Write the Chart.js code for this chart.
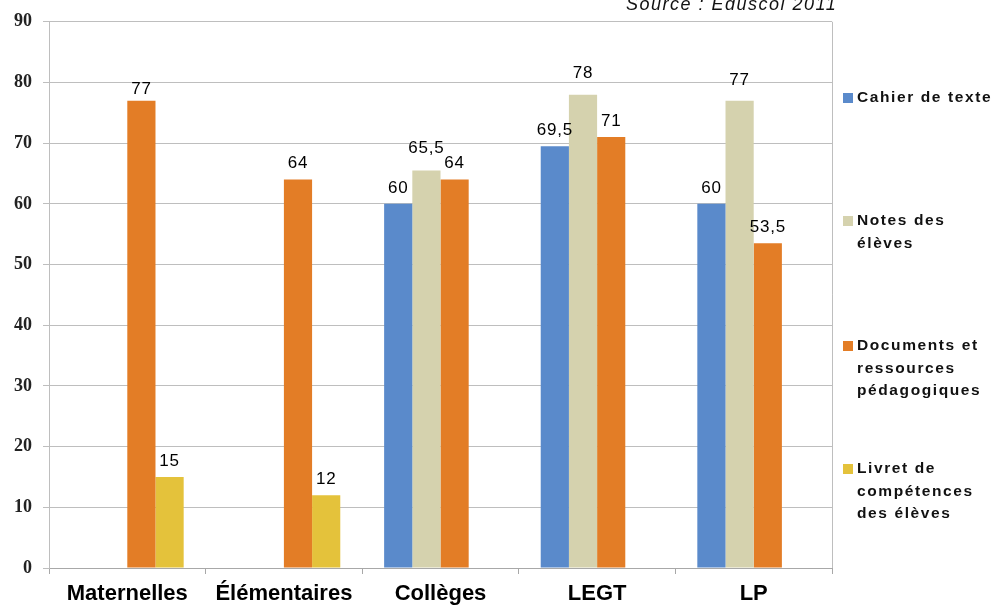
<!DOCTYPE html>
<html>
<head>
<meta charset="utf-8">
<script src="https://cdn.jsdelivr.net/npm/chart.js@4.4.0/dist/chart.umd.min.js"></script>
<style>
html,body{margin:0;padding:0;background:#fff;}
#wrap{width:998px;height:606px;}
</style>
</head>
<body>
<div id="wrap"><canvas id="c" width="998" height="606"></canvas></div>
<script>
const categories = ["Maternelles", "Élémentaires", "Collèges", "LEGT", "LP"];
const cahierDeTexte = [null, null, 60, 69.5, 60];
const notesDesEleves = [null, null, 65.5, 78, 77];
const documentsRessources = [77, 64, 64, 71, 53.5];
const livretCompetences = [15, 12, null, null, null];
const seriesNames = [["Cahier de texte"], ["Notes des", "élèves"], ["Documents et", "ressources", "pédagogiques"], ["Livret de", "compétences", "des élèves"]];
const yTicks = [0, 10, 20, 30, 40, 50, 60, 70, 80, 90];
const sourceText = "Source : Eduscol 2011";

const colors = ["#5A8ACB", "#D5D2AE", "#E37D26", "#E4C23B"];
const legendY = [98, 221, 346, 469];
// label lift above bar top (style), a few labels sit higher / lower in the original
const labelLift = {"1,2": 22, "1,3": 21, "1,4": 20, "2,0": 11};

const fmt = v => String(v).replace(".", ",");

const extras = {
  id: "extras",
  beforeDatasetsDraw(chart) {
    const {ctx, chartArea} = chart;
    ctx.save();
    ctx.strokeStyle = "#BEBEBE";
    ctx.lineWidth = 1;
    ctx.beginPath();
    ctx.moveTo(Math.round(chartArea.right) + 0.5, chartArea.top);
    ctx.lineTo(Math.round(chartArea.right) + 0.5, chartArea.bottom);
    ctx.stroke();
    ctx.restore();
  },
  afterDatasetsDraw(chart) {
    const {ctx} = chart;
    ctx.save();
    ctx.font = "17px 'Liberation Sans', Arial, sans-serif";
    ctx.letterSpacing = "0.8px";
    ctx.fillStyle = "#000";
    ctx.textAlign = "center";
    ctx.textBaseline = "middle";
    chart.data.datasets.forEach((ds, di) => {
      const meta = chart.getDatasetMeta(di);
      meta.data.forEach((bar, i) => {
        const v = ds.data[i];
        if (v === null || v === undefined) return;
        const lift = labelLift[di + "," + i] || 16;
        ctx.fillText(fmt(v), bar.x, bar.y - lift);
      });
    });
    // legend
    ctx.textAlign = "left";
    ctx.textBaseline = "middle";
    ctx.font = "bold 15.5px 'Liberation Sans', Arial, sans-serif";
    ctx.letterSpacing = "1.6px";
    seriesNames.forEach((lines, i) => {
      const y0 = legendY[i];
      ctx.fillStyle = colors[i];
      ctx.fillRect(843, y0 - 5, 10, 10);
      ctx.fillStyle = "#111";
      lines.forEach((t, k) => ctx.fillText(t, 857, y0 + k * 22.5));
    });
    // source
    ctx.font = "italic 18px 'Liberation Sans', Arial, sans-serif";
    ctx.letterSpacing = "1.5px";
    ctx.textBaseline = "alphabetic";
    ctx.fillStyle = "#111";
    ctx.fillText(sourceText, 626, 10);
    ctx.restore();
  }
};

new Chart(document.getElementById("c"), {
  type: "bar",
  data: {
    labels: categories,
    datasets: [
      {label: seriesNames[0].join(" "), data: cahierDeTexte, backgroundColor: colors[0]},
      {label: seriesNames[1].join(" "), data: notesDesEleves, backgroundColor: colors[1]},
      {label: seriesNames[2].join(" "), data: documentsRessources, backgroundColor: colors[2]},
      {label: seriesNames[3].join(" "), data: livretCompetences, backgroundColor: colors[3]}
    ]
  },
  options: {
    responsive: false,
    animation: false,
    devicePixelRatio: 1,
    layout: {padding: {top: 20, right: 166, left: 0, bottom: 0}},
    datasets: {bar: {categoryPercentage: 0.72, barPercentage: 1, skipNull: false}},
    plugins: {legend: {display: false}, tooltip: {enabled: false}, title: {display: false}},
    scales: {
      x: {
        grid: {display: true, drawOnChartArea: false, drawTicks: true, tickLength: 6, offset: true, color: "#A8A8A8"},
        border: {display: true, color: "#A8A8A8"},
        ticks: {color: "#000", font: {family: "'Liberation Sans', Arial, sans-serif", size: 22, weight: "bold"}, padding: 7, maxRotation: 0},
        afterFit(s) { s.height = 38; }
      },
      y: {
        min: 0, max: 90,
        afterBuildTicks(s) { s.ticks = yTicks.map(v => ({value: v})); },
        grid: {color: "#BEBEBE", tickLength: 6, drawTicks: true},
        border: {display: true, color: "#BEBEBE"},
        ticks: {color: "#222", font: {family: "'Liberation Serif', 'Times New Roman', serif", size: 18, weight: "bold"}, padding: 11},
        afterFit(s) { s.width = 49; }
      }
    }
  },
  plugins: [extras]
});
</script>
</body>
</html>
